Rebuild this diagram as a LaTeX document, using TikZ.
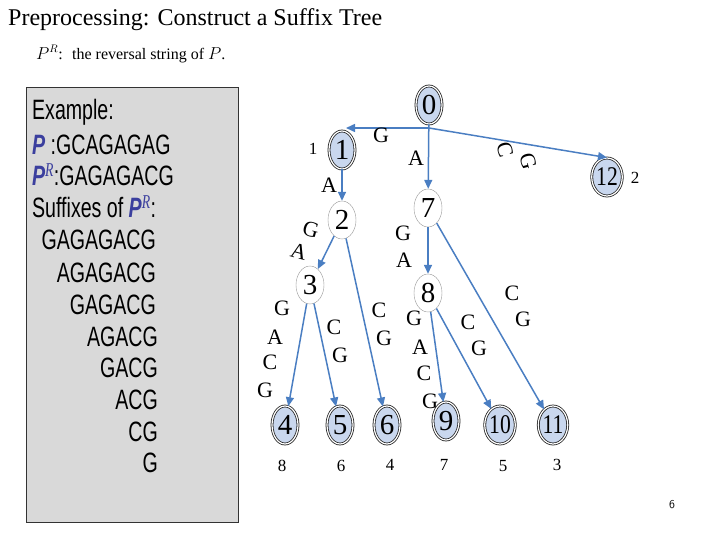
\documentclass[tikz,border=0pt]{standalone}
\usepackage{fontspec}
\setmainfont{Liberation Serif}
\newfontfamily\narrowsans{Liberation Sans}
\usetikzlibrary{shapes.geometric,arrows.meta}
\definecolor{edgeblue}{HTML}{4A7EC2}
\definecolor{leaffill}{HTML}{C9D7EE}
\definecolor{panelgray}{HTML}{D9D9D9}
\definecolor{pblue}{HTML}{3B3F9E}
\tikzset{
 leaf/.style={ellipse,draw=black!85,line width=0.8pt,double=white,double distance=1.2pt,fill=leaffill,minimum width=26pt,minimum height=38pt,inner sep=0pt,font=\fontsize{29}{29}\selectfont},
 inner/.style={ellipse,draw=black!40,fill=white,minimum width=28pt,minimum height=38pt,inner sep=0pt,font=\fontsize{29}{29}\selectfont},
 edge/.style={draw=edgeblue,line width=1.5pt,-{Triangle[length=9pt,width=8pt]}},
 lbl/.style={font=\fontsize{22}{22}\selectfont,inner sep=0pt},
 num/.style={font=\fontsize{17}{17}\selectfont,inner sep=0pt},
 ex/.style={font=\narrowsans\fontsize{28}{28}\selectfont,xscale=0.7,inner sep=0pt}
}
\begin{document}
\begin{tikzpicture}[x=1pt,y=-1pt]
\useasboundingbox (0,0) rectangle (720,540);
\node[anchor=west,inner sep=0pt,font=\fontsize{24}{24}\selectfont] (title) at (8,20) {Preprocessing: Construct a Suffix Tree};
\node[anchor=west,inner sep=0pt,font=\fontsize{16}{16}\selectfont] (sub) at (36,54) {$P^R$: \ the reversal string of $P$.};
\node[draw=black!80,fill=panelgray,line width=1pt,minimum width=212pt,minimum height=435pt,anchor=north west,inner sep=0pt] (panel) at (26,87) {};
\node[ex,anchor=west] (e1) at (32,112) {Example:};
\node[ex,anchor=west] (e2) at (32,145) {\textcolor{pblue}{\textbf{\textit{P}}} :GCAGAGAG};
\node[ex,anchor=west] (e3) at (32,175) {\textcolor{pblue}{\textbf{\textit{P}$^{\mathit{R}}$}}:GAGAGACG};
\node[ex,anchor=west] (e4) at (32,207) {Suffixes of \textcolor{pblue}{\textbf{\textit{P}$^{\mathit{R}}$}}:};
\node[ex,anchor=east] (s1) at (156,240) {GAGAGACG};
\node[ex,anchor=east] (s2) at (156,273) {AGAGACG};
\node[ex,anchor=east] (s3) at (156,305) {GAGACG};
\node[ex,anchor=east] (s4) at (158,337) {AGACG};
\node[ex,anchor=east] (s5) at (158,368) {GACG};
\node[ex,anchor=east] (s6) at (158,400) {ACG};
\node[ex,anchor=east] (s7) at (158,432) {CG};
\node[ex,anchor=east] (s8) at (158,463) {G};
% tree
\node[leaf] (n0) at (429,105) {0};
\node[leaf] (n1) at (342,150) {1};
\node[leaf,font=\fontsize{27}{27}\selectfont] (n12) at (607,177) {\scalebox{0.8}[1]{12}};
\node[inner] (n2) at (342,220) {2};
\node[inner] (n7) at (428,208) {7};
\node[inner] (n3) at (310,285) {3};
\node[inner] (n8) at (428,293) {8};
\node[leaf] (n4) at (285,425) {4};
\node[leaf] (n5) at (340,425) {5};
\node[leaf] (n6) at (387,425) {6};
\node[leaf] (n9) at (446,421) {9};
\node[leaf,font=\fontsize{27}{27}\selectfont] (n10) at (500,425) {\scalebox{0.8}[1]{10}};
\node[leaf,font=\fontsize{27}{27}\selectfont] (n11) at (553,425) {\scalebox{0.8}[1]{11}};
\coordinate (j) at (429,128);
\draw[edge] (j) -- (346,128);
\draw[edge] (j) -- (n12.north);
\draw[edge] (n0) -- (n7);
\draw[edge] (n1) -- (n2);
\draw[edge] (n2) -- (n3);
\draw[edge] (n2) -- (n6);
\draw[edge] (n3) -- (n4);
\draw[edge] (n3) -- (n5);
\draw[edge] (n7) -- (n8);
\draw[edge] (n7) -- (n11);
\draw[edge] (n8) -- (n9);
\draw[edge] (n8) -- (n10);
% labels
\node[lbl] (lG0) at (381,135) {G};
\node[lbl] (lA0) at (416,158) {A};
\node[lbl,rotate=-75] (lC0) at (505,150) {C};
\node[lbl,rotate=-75] (lG12) at (528,161) {G};
\node[num] (t1) at (313,149) {1};
\node[num] (t2) at (635,178) {2};
\node[lbl] (lA1) at (329,185) {A};
\node[lbl,rotate=-15] (lG2) at (311,230) {G};
\node[lbl,rotate=-15] (lA2) at (299,252) {A};
\node[lbl] (a1) at (282,308) {G};
\node[lbl] (a2) at (275,337) {A};
\node[lbl] (a3) at (270,362) {C};
\node[lbl] (a4) at (265,390) {G};
\node[lbl] (b1) at (334,327) {C};
\node[lbl] (b2) at (340,355) {G};
\node[lbl] (c1) at (379,310) {C};
\node[lbl] (c2) at (384,338) {G};
\node[lbl] (d1) at (403,233) {G};
\node[lbl] (d2) at (404,260) {A};
\node[lbl] (f1) at (414,318) {G};
\node[lbl] (f2) at (420,347) {A};
\node[lbl] (f3) at (424,373) {C};
\node[lbl] (f4) at (430,401) {G};
\node[lbl] (g1) at (468,322) {C};
\node[lbl] (g2) at (479,348) {G};
\node[lbl] (h1) at (512,293) {C};
\node[lbl] (h2) at (523,319) {G};
\node[num] (m1) at (282,466) {8};
\node[num] (m2) at (341,466) {6};
\node[num] (m3) at (390,465) {4};
\node[num] (m4) at (444,465) {7};
\node[num] (m5) at (503,466) {5};
\node[num] (m6) at (557,465) {3};
\node[font=\sffamily\fontsize{12}{12}\selectfont,inner sep=0pt] (pg) at (672,505) {6};
\end{tikzpicture}
\end{document}
